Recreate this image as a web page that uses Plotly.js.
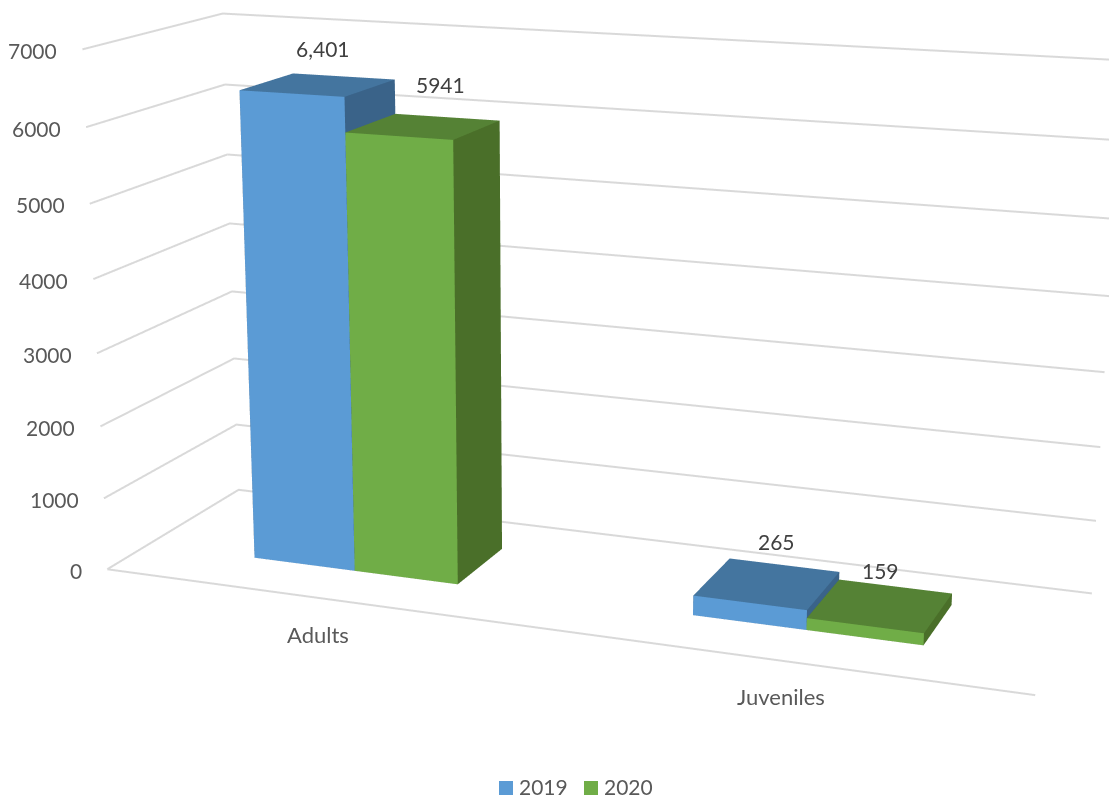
<!DOCTYPE html>
<html><head><meta charset="utf-8">
<script src="https://cdn.plot.ly/plotly-3.0.1.min.js"></script>
<style>html,body{margin:0;padding:0;background:#fff;width:1109px;height:797px;overflow:hidden}
#wrap{position:absolute;left:0;top:-699px;width:1109px;height:2195px}#chart{width:1109px;height:2195px}</style>
</head><body><div id="wrap"><div id="chart"></div></div>
<script>
const categories = ["Adults", "Juveniles"];
const seriesNames = ["2019", "2020"];
const values2019 = [6401, 265];
const values2020 = [5941, 159];
const labels2019 = ["6,401", "265"];
const labels2020 = ["5941", "159"];
const zTicks = [0, 1000, 2000, 3000, 4000, 5000, 6000, 7000];
const categoryCenters = [0.5, 1.502];
const TEXT = "#595959", DARK = "#404040", GRID = "#D9D9D9", FONT = "Lato, 'Open Sans', sans-serif";
const barW = 0.24, yLo = 0.3, yHi = 0.71, FS = 21;
const PAGE_H = 797, OFFSET = 699, GRAPH_H = 2195, GRAPH_W = 1109;
const shades = [
  {front:"#5B9BD5", top:"#44759F", side:"#3A6389"},
  {front:"#70AD47", top:"#558235", side:"#4A6F29"}
];
function barsMesh(vals, s, name) {
  const X=[],Y=[],Z=[],I=[],J=[],K=[],FC=[];
  const c = shades[s];
  vals.forEach((v,k)=>{
    const x0 = categoryCenters[k] + (s===0?-barW:0), x1 = x0+barW, o = X.length;
    [[x0,yLo,0],[x1,yLo,0],[x1,yHi,0],[x0,yHi,0],[x0,yLo,v],[x1,yLo,v],[x1,yHi,v],[x0,yHi,v]]
      .forEach(p=>{X.push(p[0]);Y.push(p[1]);Z.push(p[2]);});
    [[0,1,5,c.front],[0,5,4,c.front],[4,5,6,c.top],[4,6,7,c.top],[1,2,6,c.side],[1,6,5,c.side],
     [3,0,4,c.side],[3,4,7,c.side],[2,3,7,c.side],[2,7,6,c.side],[0,1,2,c.side],[0,2,3,c.side]]
      .forEach(f=>{I.push(o+f[0]);J.push(o+f[1]);K.push(o+f[2]);FC.push(f[3]);});
  });
  return {type:"mesh3d",name:name,x:X,y:Y,z:Z,i:I,j:J,k:K,facecolor:FC,flatshading:true,
    showlegend:false,showscale:false,hoverinfo:"skip",
    lighting:{ambient:1,diffuse:0,specular:0,roughness:1,fresnel:0},lightposition:{x:0,y:0,z:1000}};
}
function gridTrace(){
  const X=[],Y=[],Z=[];
  zTicks.forEach(t=>{ X.push(0,0,2,null); Y.push(0,1,1,null); Z.push(t,t,t,null); });
  X.push(0,2); Y.push(0,0); Z.push(0,0);
  return {type:"scatter3d",mode:"lines",x:X,y:Y,z:Z,connectgaps:false,line:{color:GRID,width:4},showlegend:false,hoverinfo:"skip"};
}
function ann(x,y,z,text,dx,dy,color,anchor,size){
  return {x:x,y:y,z:z,text:text,showarrow:false,xshift:dx,yshift:dy,xanchor:anchor||"center",yanchor:"middle",
    font:{family:FONT,size:size||FS,color:color}};
}
const midY = (yLo+yHi)/2;
const anns = [
  ann(categoryCenters[0]-barW/2,midY,values2019[0],labels2019[0],5,36,DARK),
  ann(categoryCenters[0]+barW/2,midY,values2020[0],labels2020[0],17,42,DARK),
  ann(categoryCenters[1]-barW/2,midY,values2019[1],labels2019[1],9,42,DARK),
  ann(categoryCenters[1]+barW/2,midY,values2020[1],labels2020[1],0,35,DARK)
].concat(zTicks.map(t=>ann(0,0,t,String(t),-23,-1,TEXT,"right")))
 .concat([ann(0.5,0,0,categories[0],1,-37,TEXT,"center",22), ann(1.5,0,0,categories[1],1,-36,TEXT,"center",22)]);

// legend built from the series names, placed in page pixels
const px = x=>x/GRAPH_W, py = y=>1-(y+OFFSET)/GRAPH_H;
const legendItems = [{box:499,text:519},{box:584,text:604}];
const legendShapes = legendItems.map((it,s)=>({type:"rect",xref:"paper",yref:"paper",x0:px(it.box),x1:px(it.box+14),y0:py(781),y1:py(795),fillcolor:shades[s].front,line:{width:0}}));
const legendTexts = legendItems.map((it,s)=>({xref:"paper",yref:"paper",x:px(it.text),y:py(787),xanchor:"left",yanchor:"middle",showarrow:false,text:seriesNames[s],xshift:-2,font:{family:FONT,size:FS,color:TEXT}}));

const axBase = {showbackground:false,showspikes:false,zeroline:false,title:{text:""},ticks:"",showgrid:false,showline:false,showticklabels:false};
Plotly.newPlot("chart",[gridTrace(),barsMesh(values2019,0,seriesNames[0]),barsMesh(values2020,1,seriesNames[1])],{
  width:GRAPH_W,height:GRAPH_H,margin:{l:0,r:0,t:0,b:0},paper_bgcolor:"#fff",showlegend:false,
  font:{family:FONT,size:FS,color:TEXT},
  shapes:legendShapes,annotations:legendTexts,
  scene:{
    domain:{x:[0,1],y:[0,1]},
    aspectmode:"manual",aspectratio:{x:1.061,y:0.321,z:0.593},
    camera:{eye:{x:0.9688,y:-2.642,z:0.702},center:{x:-0.034,y:-0.0326,z:-0.0782},up:{x:0,y:0,z:1},projection:{type:"perspective"}},
    xaxis:Object.assign({},axBase,{range:[0,2]}),
    yaxis:Object.assign({},axBase,{range:[0,1]}),
    zaxis:Object.assign({},axBase,{range:[0,7001]}),
    annotations:anns
  }
},{displayModeBar:false});
</script></body></html>
